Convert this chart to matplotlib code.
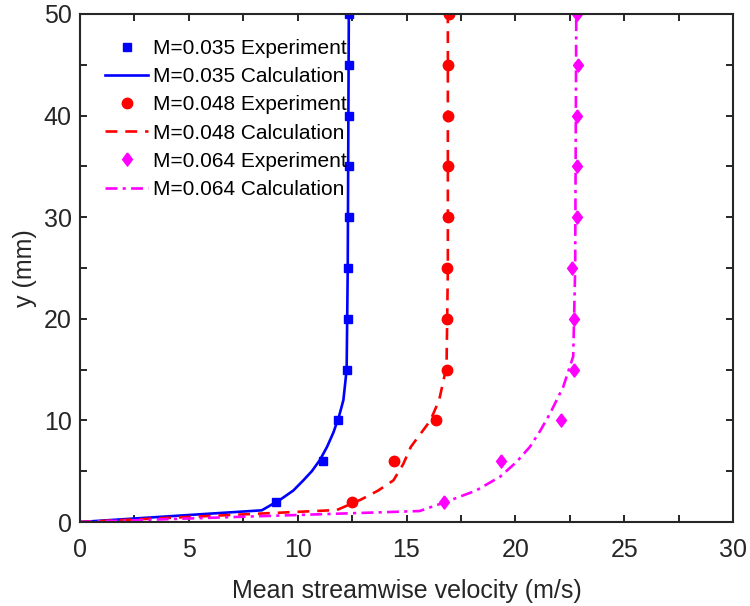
import matplotlib
matplotlib.use('Agg')
from matplotlib import pyplot as plt
from matplotlib.ticker import MultipleLocator

plt.rcParams['font.family'] = ['Liberation Sans', 'DejaVu Sans']

# mesures (y en mm, vitesse en m/s)
y_exp = [2, 6, 10, 15, 20, 25, 30, 35, 40, 45, 50]
u_exp_035 = [9.0, 11.15, 11.87, 12.28, 12.33, 12.33, 12.35, 12.35, 12.35, 12.35, 12.36]
u_exp_048 = [12.5, 14.43, 16.34, 16.84, 16.87, 16.87, 16.9, 16.9, 16.9, 16.9, 16.95]
u_exp_064 = [16.74, 19.34, 22.12, 22.71, 22.71, 22.6, 22.85, 22.85, 22.85, 22.88, 22.85]

# calculs
y_calc_035 = [0, 1.15, 2.2, 3.1, 4.1, 5.0, 6.1, 7.4, 8.8, 10.4, 12.0, 15.0, 25, 50]
u_calc_035 = [0, 8.35, 9.2, 9.8, 10.26, 10.65, 11.02, 11.35, 11.64, 11.9, 12.1, 12.25, 12.3, 12.35]
y_calc_048 = [0, 1.18, 2.2, 3.1, 4.1, 5.7, 7.4, 8.7, 10.0, 12.0, 15.3, 25, 50]
u_calc_048 = [0, 11.8, 12.9, 13.7, 14.4, 14.85, 15.2, 15.65, 16.1, 16.5, 16.84, 16.9, 16.9]
y_calc_064 = [0, 1.08, 2.0, 3.1, 4.46, 5.9, 7.4, 9.0, 10.7, 13.3, 16.3, 25, 50]
u_calc_064 = [0, 15.6, 16.84, 18.2, 19.3, 20.05, 20.67, 21.15, 21.6, 22.2, 22.66, 22.75, 22.8]

blue = '#0000FF'
red = '#FF0000'
magenta = '#FF00FF'
gris = '#262626'
losange = [(0, 1), (0.75, 0), (0, -1), (-0.75, 0), (0, 1)]

fig = plt.figure(figsize=(7.5, 6.06), dpi=100)
ax = fig.add_axes([0.1067, 0.1386, 0.8706, 0.8383])

ax.plot(u_exp_035, y_exp, 's', color=blue, markersize=5.8, label='M=0.035 Experiment')
ax.plot(u_calc_035, y_calc_035, '-', color=blue, lw=1.9, label='M=0.035 Calculation')
ax.plot(u_exp_048, y_exp, 'o', color=red, markersize=7.5, label='M=0.048 Experiment')
ax.plot(u_calc_048, y_calc_048, '--', color=red, lw=1.9, dashes=(4.5, 3), label='M=0.048 Calculation')
ax.plot(u_exp_064, y_exp, marker=losange, ls='none', color=magenta, markersize=9.5,
        label='M=0.064 Experiment')
ax.plot(u_calc_064, y_calc_064, '-.', color=magenta, lw=1.9, dashes=(4.5, 2, 1.2, 2),
        label='M=0.064 Calculation')

ax.set_xlim(0, 30)
ax.set_ylim(0, 50)
ax.xaxis.set_major_locator(MultipleLocator(5))
ax.xaxis.set_minor_locator(MultipleLocator(2.5))
ax.yaxis.set_major_locator(MultipleLocator(10))
ax.yaxis.set_minor_locator(MultipleLocator(5))
ax.tick_params(which='both', direction='in', top=True, right=True, colors=gris,
               width=1.4, length=5, labelsize=18)
ax.tick_params(axis='x', pad=11.5)
ax.tick_params(axis='y', pad=6)
for s in ax.spines.values():
    s.set_linewidth(1.5)
    s.set_color(gris)

ax.set_xlabel('Mean streamwise velocity (m/s)', fontsize=18, color=gris, labelpad=12)
ax.set_ylabel('y (mm)', fontsize=18, color=gris, labelpad=5)

ax.legend(loc='upper left', bbox_to_anchor=(0.0256, 0.967), frameon=False, fontsize=15,
          handlelength=2.07, handletextpad=0.24, labelspacing=0.44, borderaxespad=0)

plt.savefig('out.png', dpi=100)
